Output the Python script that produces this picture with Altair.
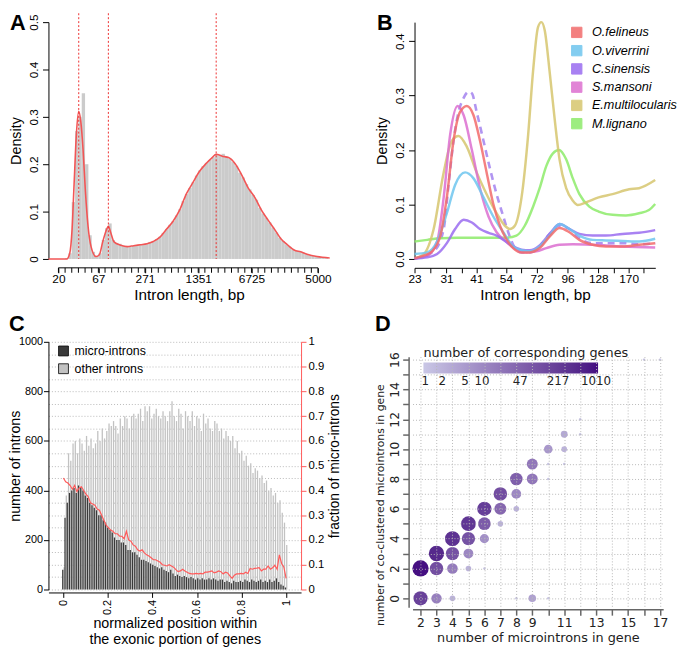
import altair as alt
import pandas as pd

FONT = "Liberation Sans"
DFONT = "DejaVu Sans"

# ---------------- Panel A: intron length distribution (ln bp) ----------------
a_bin_start = 2.70
a_bin_width = 0.10
a_hist = [0, 0, 0, 0, 0, 0.002, 0.012, 0.12, 0.27, 0.30,
          0.35, 0.20, 0.05, 0.015, 0.006, 0.012, 0.04, 0.065, 0.075, 0.04,
          0.034, 0.032, 0.028, 0.027, 0.026, 0.028, 0.029, 0.030, 0.031, 0.032,
          0.036, 0.038, 0.042, 0.047, 0.055, 0.063, 0.072, 0.080, 0.092, 0.105,
          0.122, 0.137, 0.150, 0.162, 0.176, 0.187, 0.196, 0.203, 0.209, 0.215,
          0.220, 0.219, 0.222, 0.216, 0.212, 0.205, 0.197, 0.182, 0.172, 0.158,
          0.147, 0.135, 0.125, 0.108, 0.096, 0.087, 0.077, 0.066, 0.056, 0.045,
          0.038, 0.031, 0.026, 0.020, 0.017, 0.015, 0.013, 0.010, 0.008, 0.007,
          0.005, 0.004, 0.003, 0.002]
a_curve_x = [2.70, 3.25, 3.34, 3.41, 3.47, 3.54, 3.61, 3.67, 3.74, 3.81, 3.89, 3.98, 4.13,
             4.23, 4.33, 4.43, 4.50, 4.57, 4.67, 4.87, 5.07, 5.26, 5.46, 5.66, 5.85, 6.05,
             6.25, 6.44, 6.64, 6.84, 7.03, 7.23, 7.43, 7.62, 7.74, 7.92, 8.11, 8.31, 8.51,
             8.70, 8.90, 9.10, 9.29, 9.49, 9.69, 9.88, 10.08, 10.28, 10.47, 10.77, 11.15]
a_curve_y = [0, 0, 0.012, 0.063, 0.157, 0.264, 0.312, 0.291, 0.231, 0.143, 0.069, 0.026, 0.005,
             0.009, 0.036, 0.059, 0.069, 0.056, 0.036, 0.029, 0.026, 0.028, 0.030, 0.032, 0.037, 0.046,
             0.063, 0.079, 0.103, 0.137, 0.160, 0.184, 0.201, 0.214, 0.221, 0.217, 0.214, 0.201, 0.177,
             0.150, 0.130, 0.103, 0.083, 0.063, 0.042, 0.030, 0.019, 0.015, 0.010, 0.005, 0.002]
a_peaks = [3.61, 4.50, 7.74]
a_label_pos = [3.0, 4.2, 5.6, 7.2, 8.8, 10.8]
a_label_txt = ["20", "67", "271", "1351", "6725", "5000"]
a_minor_ticks = [round(3.0 + 0.2 * k, 1) for k in range(40)]

# ---------------- Panel B: densities per species ----------------
species = ["O.felineus", "O.viverrini", "C.sinensis", "S.mansoni", "E.multilocularis", "M.lignano"]
sp_colors = ["#f26b6b", "#6ec5ee", "#9a6cf0", "#dc6fd0", "#d6c66e", "#8deb6a"]
fel_x = [23, 25.1, 27.1, 29.3, 31.1, 33.1, 35.2, 37.5, 39.9, 42.4, 45.1, 48.0, 51.1, 54.0,
         57.8, 62.5, 67.5, 74.0, 81.2, 89.1, 97.8, 107.3, 121.5, 137.5, 160.4, 187.3, 217.8]
fel_y = [0.001, 0.006, 0.014, 0.043, 0.113, 0.217, 0.270, 0.281, 0.264, 0.217, 0.159, 0.101, 0.061, 0.038,
         0.020, 0.012, 0.012, 0.020, 0.041, 0.057, 0.049, 0.035, 0.026, 0.023, 0.023, 0.026, 0.029]
viv_x = [23, 25.9, 28.4, 31.1, 33.6, 36.9, 39.9, 43.8, 48.0, 52.7, 57.8, 62.5, 67.5, 74.0,
         81.2, 89.1, 97.8, 107.3, 121.5, 137.5, 160.4, 187.3, 217.8]
viv_y = [0.009, 0.012, 0.032, 0.084, 0.136, 0.159, 0.148, 0.113, 0.078, 0.049, 0.023, 0.016, 0.014, 0.023,
         0.043, 0.064, 0.055, 0.043, 0.035, 0.034, 0.033, 0.032, 0.037]
sin_x = [23, 25.9, 28.4, 31.1, 33.6, 36.4, 39.3, 42.4, 45.9, 49.5, 54.0, 57.8, 62.5, 67.5,
         74.0, 81.2, 89.1, 97.8, 107.3, 121.5, 137.5, 160.4, 187.3, 217.8]
sin_y = [0.001, 0.003, 0.009, 0.029, 0.055, 0.072, 0.067, 0.055, 0.048, 0.043, 0.032, 0.023, 0.017, 0.016,
         0.025, 0.046, 0.064, 0.055, 0.046, 0.043, 0.043, 0.046, 0.048, 0.053]
man_x = [23, 25.9, 28.4, 30.2, 32.1, 34.4, 36.4, 39.3, 42.4, 45.9, 49.5, 54.0, 59.6, 65.4,
         71.8, 78.8, 89.1, 100.9, 121.5, 160.4, 217.8]
man_y = [0.001, 0.006, 0.032, 0.113, 0.229, 0.281, 0.264, 0.200, 0.130, 0.078, 0.049, 0.032, 0.017, 0.012,
         0.014, 0.020, 0.026, 0.027, 0.026, 0.023, 0.021]
mul_x = [23, 25.1, 27.5, 30.2, 32.6, 34.7, 37.5, 41.1, 45.1, 49.5, 53.5, 56.1, 58.7, 62.5, 66.5, 69.6,
         72.9, 75.2, 77.6, 81.2, 85.1, 89.1, 94.8, 100.9, 105.7, 114.2, 128.4, 146.2, 170.7, 187.3, 217.8]
mul_y = [0.001, 0.009, 0.055, 0.159, 0.217, 0.226, 0.206, 0.159, 0.119, 0.084, 0.061, 0.055, 0.061, 0.113,
         0.229, 0.345, 0.426, 0.435, 0.420, 0.345, 0.258, 0.183, 0.130, 0.107, 0.099, 0.104, 0.113, 0.119,
         0.128, 0.130, 0.145]
lig_x = [23, 25.9, 29.3, 34.2, 39.9, 46.6, 54.0, 59.6, 64.4, 69.6, 74.0, 78.8, 83.8, 88.6, 94.8,
         100.9, 107.3, 117.7, 128.4, 146.2, 165.5, 187.3, 205.5, 217.8]
lig_y = [0.032, 0.035, 0.038, 0.039, 0.039, 0.039, 0.039, 0.043, 0.061, 0.096, 0.130, 0.171, 0.194, 0.200,
         0.183, 0.148, 0.119, 0.096, 0.087, 0.081, 0.080, 0.084, 0.090, 0.101]
dash_x = [23, 27.5, 30.2, 31.6, 33.1, 34.7, 36.4, 38.1, 39.3, 41.1, 43.8, 46.6, 49.5, 52.7, 55.2, 57.8,
          62.5, 67.5, 74.0, 81.2, 89.1, 97.8, 107.3, 121.5, 137.5, 160.4, 187.3, 217.8]
dash_y = [0.001, 0.014, 0.055, 0.136, 0.217, 0.270, 0.296, 0.307, 0.304, 0.270, 0.217, 0.165, 0.119, 0.078,
          0.049, 0.026, 0.012, 0.012, 0.023, 0.046, 0.061, 0.055, 0.038, 0.029, 0.029, 0.029, 0.027, 0.029]
b_label_vals = [23, 31, 41, 54, 72, 96, 128, 170]

# ---------------- Panel C: position of introns ----------------
c_micro = [80, 290, 350, 390, 400, 410, 390, 420, 410, 400,
           380, 370, 350, 340, 330, 320, 300, 300, 280, 270,
           250, 240, 230, 210, 200, 200, 190, 190, 180, 160,
           160, 150, 150, 140, 130, 120, 120, 115, 110, 105,
           100, 95, 90, 85, 90, 80, 75, 70, 80, 65,
           55, 60, 55, 50, 55, 50, 45, 50, 45, 40,
           45, 40, 45, 40, 40, 45, 40, 45, 40, 35,
           40, 40, 30, 35, 30, 25, 35, 30, 30, 35,
           30, 40, 35, 30, 40, 35, 30, 35, 40, 30,
           35, 30, 40, 30, 35, 45, 30, 20, 15, 8]
c_other = [90, 380, 550, 520, 590, 600, 550, 610, 590, 560,
           620, 580, 610, 570, 590, 640, 600, 650, 610, 640,
           670, 660, 680, 660, 630, 690, 660, 700, 690, 650,
           700, 710, 690, 710, 730, 680, 740, 720, 740, 690,
           710, 730, 700, 690, 720, 700, 680, 720, 760, 700,
           680, 730, 710, 650, 720, 700, 680, 720, 660, 700,
           690, 640, 710, 670, 690, 650, 640, 680, 670, 640,
           650, 610, 640, 620, 600, 620, 570, 600, 550, 560,
           520, 540, 500, 510, 470, 490, 480, 450, 460, 430,
           440, 400, 410, 380, 390, 350, 360, 310, 270, 180]
c_frac = [0.45, 0.435, 0.43, 0.42, 0.405, 0.42, 0.395, 0.41, 0.415, 0.40,
          0.385, 0.375, 0.35, 0.345, 0.34, 0.325, 0.32, 0.30, 0.28, 0.26,
          0.25, 0.24, 0.235, 0.225, 0.225, 0.215, 0.215, 0.205, 0.235, 0.2,
          0.195, 0.18, 0.175, 0.16, 0.155, 0.16, 0.148, 0.14, 0.135, 0.128,
          0.12, 0.12, 0.115, 0.11, 0.10, 0.098, 0.095, 0.10, 0.095, 0.09,
          0.08, 0.072, 0.075, 0.082, 0.075, 0.07, 0.065, 0.063, 0.063, 0.065,
          0.063, 0.065, 0.063, 0.07, 0.07, 0.072, 0.075, 0.067, 0.07, 0.075,
          0.072, 0.063, 0.07, 0.067, 0.055, 0.045, 0.058, 0.063, 0.063, 0.065,
          0.063, 0.07, 0.065, 0.085, 0.082, 0.085, 0.086, 0.088, 0.075, 0.082,
          0.082, 0.095, 0.082, 0.088, 0.098, 0.082, 0.14, 0.105, 0.09, 0.045]
c_pos = [i / 99 for i in range(100)]
c_kinds = ["micro-introns", "other introns"]

# ---------------- Panel D: co-clustered micro-introns ----------------
d_x = [2, 2, 3, 3, 3, 4, 4, 4, 4, 5, 5, 5, 5, 6, 6, 6, 6, 7, 7, 7, 8, 8, 8, 8,
       9, 9, 9, 10, 10, 10, 10, 11, 11, 11, 12, 12, 16, 17]
d_y = [2, 0, 3, 2, 0, 4, 3, 2, 0, 5, 4, 3, 2, 6, 5, 4, 2, 7, 6, 5, 8, 7, 6, 0,
       9, 8, 0, 10, 9, 8, 0, 11, 10, 9, 12, 11, 16, 16]
d_n = [1010, 178, 478, 109, 15, 338, 94, 17, 2, 290, 94, 11, 2, 206, 66, 8, 1, 109, 40, 2, 57, 11, 2, 1,
       21, 21, 4, 6, 1, 1, 1, 3, 2, 1, 1, 1, 1, 1]
d_legend_vals = [1, 2, 5, 10, 47, 217, 1010]
d_x_labels = [2, 3, 4, 5, 6, 7, 8, 9, 11, 13, 15, 17]

# ======================= build =======================
A_W, A_H = 285, 240
B_W, B_H = 244, 240
C_W, C_H = 256, 251
D_W, D_H = 254, 254


def letter(txt, dx, dy):
    return alt.Chart(pd.DataFrame({"t": [txt]})).mark_text(
        font=FONT, fontSize=22, fontWeight="bold", align="left", baseline="top", color="black"
    ).encode(text="t:N", x=alt.value(dx), y=alt.value(dy))


# ---- A ----
a_expr = (f"indexof({a_label_pos}, datum.value) >= 0 ? "
          f"{a_label_txt}[indexof({a_label_pos}, datum.value)] : ''")
a_hist_df = pd.DataFrame({"x": [a_bin_start + a_bin_width * i for i in range(len(a_hist))], "d": a_hist})
a_hist_df["x2"] = a_hist_df["x"] + a_bin_width
a_curve_df = pd.DataFrame({"x": a_curve_x, "d": a_curve_y})
a_peak_df = pd.DataFrame({"x": a_peaks})
a_minor_df = pd.DataFrame({"x": a_minor_ticks})

ax_a = alt.Axis(values=a_label_pos, labelExpr=a_expr, title="Intron length, bp", offset=9, tickSize=5,
                labelPadding=1, titlePadding=3, labelFontSize=12, titleFontSize=15.5, labelOverlap=False,
                labelFlush=False, grid=False, domain=False)
ay_a = alt.Axis(values=[0, 0.1, 0.2, 0.3, 0.4, 0.5], format=".1~f", labelAngle=270, labelAlign="center",
                labelBaseline="bottom", title="Density", tickSize=6, labelPadding=2, titleX=-25,
                labelFontSize=12, titleFontSize=14.5, grid=False)
xs_a = alt.Scale(domain=[2.70, 11.15], nice=False, zero=False)
ys_a = alt.Scale(domain=[0, 0.5], nice=False)

a_bars = alt.Chart(a_hist_df).mark_rect(color="#cbcbcb").encode(
    x=alt.X("x:Q", scale=xs_a, axis=ax_a), x2="x2:Q",
    y=alt.Y("d:Q", scale=ys_a, axis=ay_a), y2=alt.datum(0))
a_line = alt.Chart(a_curve_df).mark_line(color="#f25555", strokeWidth=1.6, interpolate="monotone").encode(
    x="x:Q", y="d:Q")
a_rules = alt.Chart(a_peak_df).mark_rule(color="#ee3030", strokeDash=[2, 2], strokeWidth=1).encode(
    x="x:Q", y=alt.value(-9), y2=alt.value(A_H))
# R-style x axis: line only across the labelled range, minor ticks every 0.2
a_axis_line = alt.Chart(pd.DataFrame({"x": [a_label_pos[0]], "x2": [a_label_pos[-1]]})).mark_rule(
    color="black", strokeWidth=1).encode(x="x:Q", x2="x2:Q", y=alt.value(A_H + 9))
a_minor = alt.Chart(a_minor_df).mark_rule(color="black", strokeWidth=1).encode(
    x="x:Q", y=alt.value(A_H + 9), y2=alt.value(A_H + 14))
panel_a = alt.layer(a_bars, a_line, a_rules, a_axis_line, a_minor, letter("A", -39, -9)).properties(
    width=A_W, height=A_H)

# ---- B ----
rows = []
for sp, xs, ys in [("M.lignano", lig_x, lig_y), ("E.multilocularis", mul_x, mul_y),
                   ("S.mansoni", man_x, man_y), ("C.sinensis", sin_x, sin_y),
                   ("O.viverrini", viv_x, viv_y), ("O.felineus", fel_x, fel_y)]:
    for xv, yv in zip(xs, ys):
        rows.append({"bp": xv, "dens": yv, "sp": sp})
b_df = pd.DataFrame(rows)
b_dash_df = pd.DataFrame({"bp": dash_x, "dens": dash_y})

b_ticks = []
for i, v in enumerate(b_label_vals):
    b_ticks.append(v)
    nxt = b_label_vals[i + 1] if i + 1 < len(b_label_vals) else v * 1.33
    b_ticks.append(round((v * nxt) ** 0.5, 2))
b_expr = "indexof(" + str(b_label_vals) + ", datum.value) >= 0 ? datum.value : ''"

ax_b = alt.Axis(values=b_ticks, labelExpr=b_expr, title="Intron length, bp", offset=9, tickSize=5,
                labelPadding=1, titlePadding=3, labelFontSize=12, titleFontSize=15.5, labelOverlap=False,
                labelFlush=False, grid=False)
ay_b = alt.Axis(values=[0, 0.1, 0.2, 0.3, 0.4], format=".1f", labelAngle=270, labelAlign="center",
                labelBaseline="bottom", title="Density", tickSize=6, labelPadding=2, titleX=-25,
                labelFontSize=12, titleFontSize=14.5, grid=False)
xs_b = alt.Scale(type="log", domain=[23, 218], nice=False)
ys_b = alt.Scale(domain=[0, 0.435], nice=False)
b_color_scale = alt.Scale(domain=species, range=sp_colors)

b_legend = alt.Chart(pd.DataFrame({"sp": species})).mark_square(size=0, filled=True).encode(
    x=alt.value(0), y=alt.value(0),
    color=alt.Color("sp:N", scale=b_color_scale,
                    legend=alt.Legend(orient="none", legendX=158, legendY=4, title=None, symbolType="square",
                                      symbolSize=110, symbolStrokeColor="black", symbolStrokeWidth=1,
                                      symbolOpacity=1, labelFont=FONT, labelFontStyle="italic",
                                      labelFontSize=12.8, labelOffset=9, rowPadding=3.5, labelLimit=0)))
b_lines = alt.Chart(b_df).mark_line(strokeWidth=2.5, opacity=0.85, interpolate="monotone").encode(
    x=alt.X("bp:Q", scale=xs_b, axis=ax_b),
    y=alt.Y("dens:Q", scale=ys_b, axis=ay_b),
    color=alt.Color("sp:N", scale=b_color_scale),
    detail="sp:N")
b_dash = alt.Chart(b_dash_df).mark_line(strokeWidth=2.6, strokeDash=[7, 5], color="#a98af0", opacity=0.9,
                                        interpolate="monotone").encode(x="bp:Q", y="dens:Q")
panel_b = alt.layer(b_legend, b_dash, b_lines, letter("B", -38, -9)).properties(width=B_W, height=B_H)

# ---- C ----
c_rows = []
for p, m, o in zip(c_pos, c_micro, c_other):
    c_rows.append({"pos": p, "n": m, "kind": c_kinds[0]})
    c_rows.append({"pos": p, "n": o, "kind": c_kinds[1]})
c_df = pd.DataFrame(c_rows)
c_frac_df = pd.DataFrame({"pos": c_pos, "frac": c_frac})

xs_c = alt.Scale(domain=[-0.045, 1.045], nice=False, zero=False)
ax_c = alt.Axis(values=[0, 0.2, 0.4, 0.6, 0.8, 1], format=".1~f", labelAngle=270, labelAlign="right",
                labelBaseline="middle", offset=3, tickSize=5, labelPadding=2, labelFontSize=11,
                title=["normalized position within", "the exonic portion of genes"], titleFontSize=14.5,
                titlePadding=2, grid=False)
ay_c = alt.Axis(values=[0, 200, 400, 600, 800, 1000], format="d", tickSize=5, labelPadding=1,
                labelFontSize=11, title="number of introns", titleFontSize=14.5, titleX=-26, grid=False)
c_color = alt.Color("kind:N", scale=alt.Scale(domain=c_kinds, range=["#3a3a3a", "#c2c2c2"]),
                    legend=alt.Legend(orient="none", legendX=9, legendY=3, title=None, symbolType="square",
                                      symbolSize=100, symbolStrokeColor="black", symbolStrokeWidth=0.8,
                                      labelFont=FONT, labelFontSize=12.5, labelOffset=5, rowPadding=4))
c_other_bars = alt.Chart(c_df).transform_filter(alt.datum.kind == c_kinds[1]).mark_bar(
    size=1.3, xOffset=0.65).encode(
    x=alt.X("pos:Q", scale=xs_c, axis=ax_c),
    y=alt.Y("n:Q", scale=alt.Scale(domain=[0, 1000], nice=False), axis=ay_c),
    color=c_color)
c_micro_bars = alt.Chart(c_df).transform_filter(alt.datum.kind == c_kinds[0]).mark_bar(
    size=1.3, xOffset=-0.65).encode(x="pos:Q", y="n:Q", color=c_color)
frac_tick = "round(datum.value*100) % 10 == 0"
ay_c2 = alt.Axis(orient="right", values=[round(0.05 * k, 2) for k in range(21)],
                 labelExpr=f"{frac_tick} ? format(datum.value, '.1~f') : ''",
                 tickOpacity={"condition": {"test": frac_tick, "value": 1}, "value": 0},
                 domainColor="#ff5a5a", tickColor="#ff5a5a", tickSize=5, labelPadding=2, labelFontSize=11.5,
                 title="fraction of micro-introns", titleFontSize=14, titleAngle=270, titleBaseline="top",
                 titlePadding=4, grid=True, gridDash=[1, 2], gridColor="#a8a8a8", gridWidth=0.8,
                 labelOverlap=False)
c_line = alt.Chart(c_frac_df).mark_line(color="#ff5a5a", strokeWidth=1.2).encode(
    x="pos:Q", y=alt.Y("frac:Q", scale=alt.Scale(domain=[0, 1], nice=False), axis=ay_c2))
panel_c = alt.layer(alt.layer(c_other_bars, c_micro_bars, letter("C", -40, -28)), c_line).resolve_scale(
    y="independent").properties(width=C_W, height=C_H)

# ---- D ----
d_df = pd.DataFrame({"x": d_x, "y": d_y, "n": d_n})
ax_d = alt.Axis(values=list(range(2, 18)),
                labelExpr="indexof(" + str(d_x_labels) + ", datum.value) >= 0 ? datum.value : ''",
                grid=True, gridDash=[1, 2], gridColor="#b8b8b8", zindex=1, domainColor="#666",
                domainWidth=1.5, tickColor="#666", tickWidth=1.5, tickSize=6, labelFont=DFONT,
                labelFontSize=12.5, labelColor="#222", title="number of microintrons in gene",
                titleFont=DFONT, titleFontSize=13, titleColor="#222", offset=2, labelPadding=1,
                titlePadding=3, labelOverlap=False)
ay_d = alt.Axis(values=list(range(0, 17)), labelExpr="datum.value % 2 == 0 ? datum.value : ''",
                labelAngle=270, labelAlign="center", labelBaseline="bottom", grid=True, gridDash=[1, 2],
                gridColor="#b8b8b8", zindex=1, domainColor="#666", domainWidth=1.5, tickColor="#666",
                tickWidth=1.5, tickSize=6, labelFont=DFONT, labelFontSize=12.5, labelColor="#222",
                title="number of co-clustered microintrons in gene", titleFont=DFONT, titleFontSize=11,
                titleColor="#222", titleY=150, offset=4, labelPadding=1, titlePadding=3, labelOverlap=False)
d_points = alt.Chart(d_df).mark_circle(opacity=0.95).encode(
    x=alt.X("x:Q", scale=alt.Scale(domain=[1.5, 17.2], nice=False, zero=False), axis=ax_d),
    y=alt.Y("y:Q", scale=alt.Scale(domain=[-0.6, 16.2], nice=False, zero=False), axis=ay_d),
    size=alt.Size("n:Q", scale=alt.Scale(type="log", domain=[1, 1010], range=[6, 272]), legend=None),
    color=alt.Color("n:Q", scale=alt.Scale(type="log", domain=[0.93, 1100], range=["#c6c4e4", "#3a007a"],
                                           interpolate="lab"),
                    legend=alt.Legend(orient="none", legendX=11, legendY=-10, direction="horizontal",
                                      gradientLength=177, gradientThickness=11,
                                      title="number of corresponding genes", titleFont=DFONT,
                                      titleFontSize=13, titleFontWeight="normal", titleColor="#222",
                                      titlePadding=3, titleLimit=0,
                                      labelFont=DFONT, labelFontSize=12, labelColor="#222",
                                      values=d_legend_vals, format="d", labelAlign="center",
                                      labelOverlap=False, gradientStrokeWidth=0, labelOffset=3)))
panel_d = alt.layer(d_points, letter("D", -38, -43)).properties(width=D_W, height=D_H)

chart = alt.concat(panel_a, panel_b, panel_c, panel_d, columns=2, spacing={"row": 10, "column": 34},
                   align="none", bounds="full").properties(padding=0).configure(font=FONT).configure_view(
    stroke=None).configure_axis(labelColor="black", titleColor="black", domainColor="black", tickColor="black",
                                titleFontWeight="normal", labelFont=FONT, titleFont=FONT, labelOverlap=False)

chart.save("out.html", embed_options={"renderer": "svg", "actions": False})
